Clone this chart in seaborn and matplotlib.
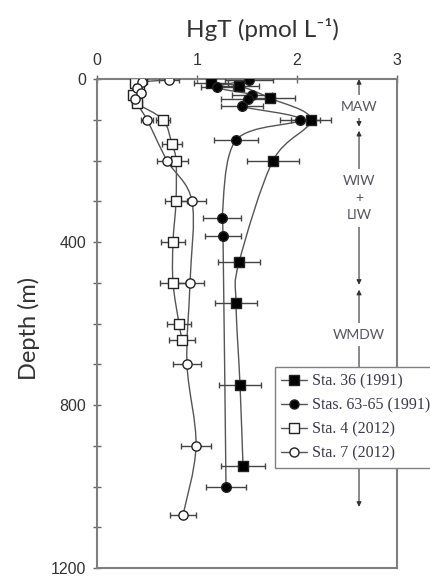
import numpy as np
import matplotlib
matplotlib.use('Agg')
import matplotlib.pyplot as plt
import seaborn as sns
from matplotlib.path import Path
from matplotlib.patches import PathPatch
from matplotlib.lines import Line2D

# Sta. 36 (1991) - quadrados cheios
sta36_depth = [10, 17, 47, 100, 200, 450, 550, 750, 950]
sta36_hgt = [1.14, 1.42, 1.73, 2.14, 1.76, 1.42, 1.39, 1.43, 1.46]
sta36_err = [0.17, 0.20, 0.25, 0.20, 0.26, 0.21, 0.21, 0.21, 0.22]

# Stas. 63-65 (1991) - circulos cheios
sta63_depth = [3, 20, 38, 48, 67, 100, 150, 340, 385, 1000]
sta63_hgt = [1.52, 1.20, 1.55, 1.51, 1.45, 2.03, 1.39, 1.25, 1.26, 1.29]
sta63_err = [0.24, 0.16, 0.20, 0.27, 0.21, 0.20, 0.22, 0.19, 0.18, 0.20]

# Sta. 4 (2012) - quadrados vazios
sta4_depth = [0, 10, 25, 40, 60, 100, 160, 200, 300, 400, 500, 600, 640]
sta4_hgt = [0.45, 0.38, 0.42, 0.36, 0.40, 0.66, 0.75, 0.79, 0.79, 0.76, 0.76, 0.82, 0.85]
sta4_err = [0.05, 0.04, 0.04, 0.04, 0.05, 0.07, 0.10, 0.12, 0.11, 0.12, 0.13, 0.12, 0.13]

# Sta. 7 (2012) - circulos vazios
sta7_depth = [2, 8, 22, 35, 50, 100, 200, 300, 500, 700, 900, 1070]
sta7_hgt = [0.72, 0.45, 0.40, 0.44, 0.38, 0.50, 0.70, 0.95, 0.93, 0.90, 0.99, 0.86]
sta7_err = [0.10, 0.04, 0.04, 0.04, 0.04, 0.06, 0.10, 0.14, 0.14, 0.14, 0.15, 0.13]

station_labels = ['Sta. 36 (1991)', 'Stas. 63-65 (1991)', 'Sta. 4 (2012)', 'Sta. 7 (2012)']

# Massas de agua
layer_names = ['MAW', 'WIW\n+\nLIW', 'WMDW']
layer_top = [0, 127, 517]
layer_bottom = [117, 505, 1050]
layer_label_depth = [68, 292, 628]

sns.set_style('ticks')
plt.rcParams['font.family'] = ['Liberation Sans', 'DejaVu Sans']


def smooth_path(x, y, yscale):
    # linha suavizada estilo Excel (Catmull-Rom -> Bezier)
    px = np.asarray(x, float)
    py = np.asarray(y, float) * yscale
    n = len(px)
    verts = [(px[0], py[0])]
    codes = [Path.MOVETO]
    for i in range(n - 1):
        i0 = max(i - 1, 0)
        i3 = min(i + 2, n - 1)
        c1 = (px[i] + (px[i + 1] - px[i0]) / 6, py[i] + (py[i + 1] - py[i0]) / 6)
        c2 = (px[i + 1] - (px[i3] - px[i]) / 6, py[i + 1] - (py[i3] - py[i]) / 6)
        verts += [c1, c2, (px[i + 1], py[i + 1])]
        codes += [Path.CURVE4] * 3
    verts = [(vx, vy / yscale) for vx, vy in verts]
    return Path(verts, codes)


fig = plt.figure(figsize=(4.30, 5.79), dpi=100)
ax = fig.add_axes([0.2256, 0.019, 0.6977, 0.8445])

stations = [
    (sta36_hgt, sta36_depth, sta36_err, 's', 'black', 56),
    (sta63_hgt, sta63_depth, sta63_err, 'o', 'black', 48),
    (sta4_hgt, sta4_depth, sta4_err, 's', 'white', 50),
    (sta7_hgt, sta7_depth, sta7_err, 'o', 'white', 44),
]

handles = []
for hgt, depth, err, mk, fc, size in stations:
    ax.add_patch(PathPatch(smooth_path(hgt, depth, 0.004075), fill=False,
                           ec='#555555', lw=1.0, zorder=2))
    ax.errorbar(hgt, depth, xerr=err, fmt='none', ecolor='#444444',
                elinewidth=1.0, capsize=2.5, capthick=1.0, zorder=3)
    sns.scatterplot(x=hgt, y=depth, marker=mk, s=size, color=fc,
                    edgecolor='#222222', linewidth=1.0, ax=ax, zorder=4,
                    legend=False)
    handles.append(Line2D([], [], color='#555555', lw=1.0, marker=mk,
                          markersize=6.5, markerfacecolor=fc,
                          markeredgecolor='#222222'))

# Setas das massas de agua
for name, top, bottom, ld in zip(layer_names, layer_top, layer_bottom, layer_label_depth):
    ax.annotate('', xy=(2.62, bottom), xytext=(2.62, top),
                arrowprops=dict(arrowstyle='<|-|>', color='#333333', lw=0.8,
                                mutation_scale=7, shrinkA=0, shrinkB=0),
                zorder=1)
    ax.text(2.62, ld, name, ha='center', va='center', fontsize=10,
            family=['Lato', 'DejaVu Sans'], color='#555560', linespacing=1.5,
            bbox=dict(facecolor='white', edgecolor='none', pad=4), zorder=1.5)

ax.set_xlim(0, 3)
ax.set_ylim(1200, 0)
ax.xaxis.tick_top()
ax.xaxis.set_label_position('top')
ax.set_xticks([0, 1, 2, 3])
ax.set_yticks(np.arange(0, 1201, 100))
ax.set_yticklabels([str(v) if v % 400 == 0 else '' for v in range(0, 1201, 100)])
ax.tick_params(direction='inout', length=6, width=1, color='#666666',
               labelsize=11.5, labelcolor='#333333', pad=5)

for sp in ax.spines.values():
    sp.set_visible(True)
    sp.set_color('#7f7f7f')
    sp.set_linewidth(1.5)

ax.set_xlabel('HgT (pmol L⁻¹)', fontsize=17.5,
              family=['Lato', 'DejaVu Sans'], color='#333333')
ax.xaxis.set_label_coords(0.55, 1.085)
ax.set_ylabel('Depth (m)', fontsize=17, family=['Lato', 'DejaVu Sans'],
              color='#333333')
ax.yaxis.set_label_coords(-0.19, 0.49)

leg = ax.legend(handles, station_labels, loc='upper left',
                bbox_to_anchor=(0.593, 0.411), frameon=True, fancybox=False,
                edgecolor='#808080', framealpha=1,
                prop=dict(family='Liberation Serif', size=11.5),
                handlelength=1.6, labelspacing=0.5, handletextpad=0.3,
                borderpad=0.4, borderaxespad=0)
leg.get_frame().set_linewidth(1.0)
for t in leg.get_texts():
    t.set_color('#3a3a4a')

plt.savefig('out.png', dpi=100)
